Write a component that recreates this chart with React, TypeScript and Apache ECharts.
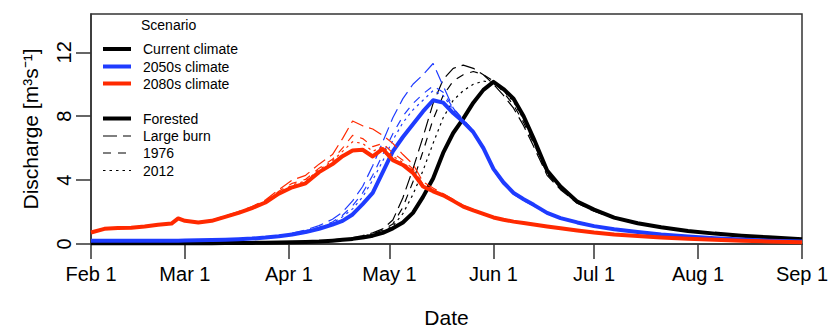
import React, { useEffect, useRef } from "react";
import * as echarts from "echarts";

// Day offsets from Feb 1
const DAYS = [
  0, 4, 8, 12, 16, 20, 24, 26, 28,
  32, 36, 40, 44, 48, 52, 56, 60, 64, 68, 72,
  75, 78, 81, 84, 87, 90, 93, 96, 99, 102, 105, 108, 111, 114, 117, 120, 123, 126, 129, 132,
  136, 140, 145, 150, 156, 163, 170, 178, 186, 194, 202, 212,
];

const TICK_DAYS = [0, 28, 59, 89, 120, 150, 181, 212];
const TICK_LABELS = ["Feb 1", "Mar 1", "Apr 1", "May 1", "Jun 1", "Jul 1", "Aug 1", "Sep 1"];
const Y_TICKS = [0, 4, 8, 12];

// Current climate (black)
const CUR_FORESTED = [
  0.05, 0.05, 0.05, 0.05, 0.05, 0.05, 0.05, 0.05, 0.05,
  0.05, 0.05, 0.06, 0.06, 0.07, 0.08, 0.09, 0.11, 0.13, 0.16, 0.21,
  0.26, 0.32, 0.4, 0.52, 0.7, 0.98, 1.35, 1.95, 2.95, 4.1, 5.7, 6.95, 7.85, 8.85, 9.65, 10.15, 9.7, 9.1, 8.0, 6.6,
  4.6, 3.6, 2.65, 2.15, 1.65, 1.3, 1.05, 0.82, 0.65, 0.52, 0.42, 0.3,
];
const CUR_LARGEBURN = [
  0.06, 0.06, 0.06, 0.06, 0.06, 0.06, 0.06, 0.06, 0.06,
  0.06, 0.06, 0.07, 0.07, 0.08, 0.09, 0.1, 0.12, 0.15, 0.19, 0.26,
  0.32, 0.4, 0.52, 0.7, 0.95, 1.5, 2.9, 4.7, 6.7, 8.8, 10.3, 11.0, 11.2, 11.0, 10.6, 10.0, 9.3, 8.5, 7.4, 6.1,
  4.3, 3.4, 2.55, 2.05, 1.6, 1.27, 1.02, 0.8, 0.64, 0.51, 0.41, 0.3,
];
const CUR_1976 = [
  0.05, 0.05, 0.05, 0.05, 0.05, 0.05, 0.05, 0.05, 0.05,
  0.06, 0.06, 0.06, 0.07, 0.08, 0.09, 0.1, 0.11, 0.14, 0.18, 0.24,
  0.3, 0.37, 0.48, 0.64, 0.86, 1.25, 2.3, 3.9, 5.8, 7.8, 9.3, 10.2, 10.6, 10.8, 10.6, 10.2, 9.5, 8.7, 7.6, 6.3,
  4.4, 3.45, 2.6, 2.1, 1.62, 1.28, 1.03, 0.81, 0.64, 0.51, 0.41, 0.3,
];
const CUR_2012 = [
  0.05, 0.05, 0.05, 0.05, 0.05, 0.05, 0.05, 0.05, 0.05,
  0.05, 0.06, 0.06, 0.06, 0.07, 0.08, 0.09, 0.11, 0.13, 0.17, 0.22,
  0.28, 0.35, 0.45, 0.6, 0.8, 1.12, 1.9, 3.1, 4.6, 6.3, 7.9, 9.0, 9.6, 10.0, 10.2, 10.1, 9.6, 8.9, 7.8, 6.4,
  4.5, 3.5, 2.6, 2.12, 1.63, 1.29, 1.04, 0.81, 0.65, 0.52, 0.42, 0.3,
];

// 2050s climate (blue)
const C2050_FORESTED = [
  0.2, 0.2, 0.2, 0.2, 0.2, 0.2, 0.21, 0.21, 0.22,
  0.23, 0.25, 0.27, 0.3, 0.34, 0.4, 0.48, 0.6, 0.75, 0.95, 1.22,
  1.45, 1.85, 2.5, 3.2, 4.5, 5.8, 6.7, 7.5, 8.3, 9.0, 8.85, 8.2, 7.65, 7.0, 6.0, 4.7, 3.85, 3.2, 2.8, 2.45,
  1.95, 1.62, 1.35, 1.12, 0.92, 0.75, 0.6, 0.47, 0.36, 0.28, 0.21, 0.15,
];
const C2050_LARGEBURN = [
  0.21, 0.21, 0.21, 0.21, 0.21, 0.21, 0.22, 0.22, 0.23,
  0.24, 0.26, 0.28, 0.31, 0.36, 0.43, 0.53, 0.68, 0.88, 1.15, 1.55,
  2.0, 2.7, 3.6, 4.9, 6.4, 7.9, 9.1, 10.0, 10.6, 11.3, 9.9, 8.5, 7.7, 7.0, 5.9, 4.6, 3.75, 3.1, 2.72, 2.38,
  1.9, 1.58, 1.32, 1.1, 0.9, 0.73, 0.59, 0.46, 0.35, 0.27, 0.2, 0.14,
];
const C2050_1976 = [
  0.2, 0.2, 0.2, 0.2, 0.2, 0.2, 0.21, 0.21, 0.22,
  0.23, 0.25, 0.28, 0.31, 0.35, 0.42, 0.51, 0.64, 0.82, 1.05, 1.38,
  1.8, 2.4, 3.2, 4.3, 5.6, 6.9, 8.0, 8.8, 9.4, 9.9, 9.5, 8.5, 7.8, 7.1, 6.0, 4.7, 3.8, 3.15, 2.76, 2.42,
  1.93, 1.6, 1.34, 1.11, 0.91, 0.74, 0.6, 0.47, 0.36, 0.28, 0.21, 0.15,
];
const C2050_2012 = [
  0.2, 0.2, 0.2, 0.2, 0.2, 0.2, 0.21, 0.21, 0.22,
  0.23, 0.25, 0.27, 0.3, 0.35, 0.41, 0.5, 0.62, 0.79, 1.01, 1.32,
  1.7, 2.2, 2.95, 4.0, 5.2, 6.5, 7.6, 8.4, 9.0, 9.6, 9.3, 8.4, 7.75, 7.1, 6.0, 4.7, 3.82, 3.18, 2.78, 2.44,
  1.94, 1.61, 1.35, 1.12, 0.92, 0.75, 0.6, 0.47, 0.36, 0.28, 0.21, 0.15,
];

// 2080s climate (red)
const C2080_FORESTED = [
  0.72, 0.95, 1.0, 1.02, 1.1, 1.2, 1.28, 1.6, 1.45,
  1.34, 1.45, 1.7, 1.95, 2.25, 2.6, 3.15, 3.55, 3.8, 4.5, 5.0,
  5.5, 5.85, 5.9, 5.48, 5.95, 5.25, 4.95, 4.45, 3.6, 3.3, 3.05, 2.7, 2.34, 2.1, 1.88, 1.66, 1.52, 1.4, 1.31, 1.22,
  1.1, 0.98, 0.85, 0.72, 0.6, 0.5, 0.41, 0.33, 0.26, 0.2, 0.16, 0.11,
];
const C2080_LARGEBURN = [
  0.74, 0.97, 1.02, 1.05, 1.13, 1.23, 1.32, 1.65, 1.5,
  1.38, 1.5, 1.76, 2.03, 2.35, 2.75, 3.4, 4.0, 4.3, 5.0, 5.6,
  6.6, 7.7, 7.4, 7.2, 6.8, 6.3, 5.6, 5.0, 3.9, 3.5, 3.15, 2.8, 2.42, 2.15, 1.92, 1.7, 1.55, 1.43, 1.33, 1.24,
  1.12, 0.99, 0.86, 0.73, 0.61, 0.5, 0.41, 0.33, 0.26, 0.2, 0.16, 0.11,
];
const C2080_1976 = [
  0.73, 0.96, 1.01, 1.04, 1.12, 1.22, 1.3, 1.63, 1.48,
  1.36, 1.48, 1.73, 1.99, 2.3, 2.68, 3.3, 3.8, 4.05, 4.75, 5.3,
  6.0, 6.8, 6.6, 6.1, 6.3, 5.7, 5.25, 4.7, 3.75, 3.4, 3.1, 2.75, 2.38, 2.12, 1.9, 1.68, 1.53, 1.41, 1.32, 1.23,
  1.11, 0.98, 0.85, 0.72, 0.6, 0.5, 0.41, 0.33, 0.26, 0.2, 0.16, 0.11,
];
const C2080_2012 = [
  0.73, 0.96, 1.01, 1.03, 1.11, 1.21, 1.29, 1.62, 1.47,
  1.35, 1.47, 1.72, 1.97, 2.28, 2.64, 3.22, 3.7, 3.95, 4.65, 5.2,
  5.8, 6.4, 6.3, 5.8, 6.1, 5.5, 5.1, 4.6, 3.7, 3.35, 3.07, 2.72, 2.36, 2.11, 1.89, 1.67, 1.52, 1.4, 1.31, 1.22,
  1.1, 0.98, 0.85, 0.72, 0.6, 0.5, 0.41, 0.33, 0.26, 0.2, 0.16, 0.11,
];

const CLIMATES = ["Current climate", "2050s climate", "2080s climate"];
const SCENARIOS = ["Forested", "Large burn", "1976", "2012"];

const FONT = "Liberation Sans, Arial, Helvetica, sans-serif";
const COLORS = ["#000000", "#1f3cff", "#ff2a00"];
const DASHES: any[] = ["solid", [14, 6], [8, 7], [2.5, 4]];

export default function App() {
  const ref = useRef<HTMLDivElement>(null);

  useEffect(() => {
    if (!ref.current) return;
    const chart = echarts.init(ref.current, undefined, { renderer: "svg" });

    const table = [
      [CUR_FORESTED, CUR_LARGEBURN, CUR_1976, CUR_2012],
      [C2050_FORESTED, C2050_LARGEBURN, C2050_1976, C2050_2012],
      [C2080_FORESTED, C2080_LARGEBURN, C2080_1976, C2080_2012],
    ];

    const series: any[] = [];
    table.forEach((group, ci) => {
      group.forEach((vals, si) => {
        series.push({
          type: "line",
          name: CLIMATES[ci] + " - " + SCENARIOS[si],
          data: DAYS.map((d, i) => [d, vals[i]]),
          showSymbol: false,
          symbol: "none",
          z: 2 + ci,
          lineStyle: {
            color: COLORS[ci],
            width: si === 0 ? 4 : 1.2,
            type: DASHES[si],
            cap: "butt",
            join: "round",
          },
        });
      });
    });

    const legendTop = [
      { label: CLIMATES[0], color: COLORS[0], dash: "solid", w: 4, y: 49 },
      { label: CLIMATES[1], color: COLORS[1], dash: "solid", w: 4, y: 66.5 },
      { label: CLIMATES[2], color: COLORS[2], dash: "solid", w: 4, y: 83.5 },
      { label: SCENARIOS[0], color: "#000", dash: "solid", w: 4, y: 118.5 },
      { label: SCENARIOS[1], color: "#000", dash: DASHES[1], w: 1.2, y: 136 },
      { label: SCENARIOS[2], color: "#000", dash: DASHES[2], w: 1.2, y: 153 },
      { label: SCENARIOS[3], color: "#000", dash: DASHES[3], w: 1.2, y: 170.5 },
    ];

    const graphic: any[] = [
      {
        type: "text",
        left: 141,
        top: 18,
        style: { text: "Scenario", font: `14px ${FONT}`, fill: "#000" },
      },
    ];
    legendTop.forEach((it) => {
      graphic.push({
        type: "line",
        shape: { x1: 103, y1: it.y, x2: 131, y2: it.y },
        style: { stroke: it.color, lineWidth: it.w, lineDash: it.dash === "solid" ? null : it.dash },
      });
      graphic.push({
        type: "text",
        x: 143,
        y: it.y,
        style: { text: it.label, font: `14px ${FONT}`, fill: "#000", verticalAlign: "middle" },
      });
    });

    chart.setOption({
      animation: false,
      backgroundColor: "#ffffff",
      grid: {
        left: 91,
        top: 14,
        width: 711,
        height: 230,
        show: true,
        borderColor: "#333",
        borderWidth: 1.5,
        containLabel: false,
        outerBoundsMode: "none",
      },
      xAxis: {
        type: "value",
        min: 0,
        max: 212,
        name: "Date",
        nameLocation: "middle",
        nameGap: 63,
        nameTextStyle: { fontFamily: FONT, fontSize: 21, color: "#000" },
        axisLine: { show: true, lineStyle: { color: "#333", width: 1.5 } },
        axisTick: { show: true, length: 15, customValues: TICK_DAYS, lineStyle: { color: "#333", width: 1.5 } },
        axisLabel: {
          customValues: TICK_DAYS,
          margin: 20,
          fontFamily: FONT,
          fontSize: 20,
          color: "#000",
          formatter: (v: number) => {
            const i = TICK_DAYS.indexOf(Math.round(v));
            return i >= 0 ? TICK_LABELS[i] : "";
          },
        },
        splitLine: { show: false },
      },
      yAxis: {
        type: "value",
        min: 0,
        max: 14.4,
        name: "Discharge [m³s⁻¹]",
        nameLocation: "middle",
        nameRotate: 90,
        nameGap: 50,
        nameTextStyle: { fontFamily: FONT, fontSize: 21, color: "#000" },
        axisLine: { show: true, lineStyle: { color: "#333", width: 1.5 } },
        axisTick: { show: true, length: 15, customValues: Y_TICKS, lineStyle: { color: "#333", width: 1.5 } },
        axisLabel: {
          customValues: Y_TICKS,
          rotate: 90,
          margin: 17,
          fontFamily: FONT,
          fontSize: 20,
          color: "#000",
        },
        splitLine: { show: false },
      },
      graphic,
      series,
    });

    return () => chart.dispose();
  }, []);

  return (
    <div
      ref={ref}
      style={{ position: "fixed", left: 0, top: 0, width: 830, height: 328, background: "#fff" }}
    />
  );
}
